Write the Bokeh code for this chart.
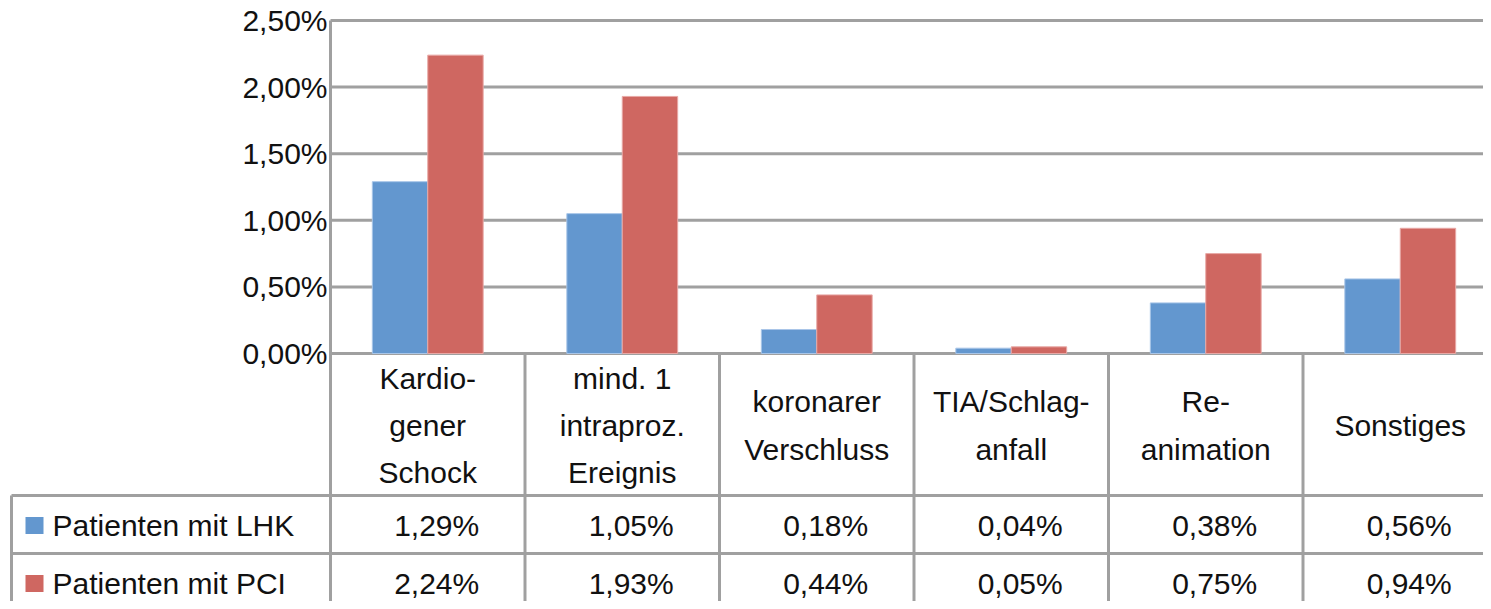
from bokeh.plotting import figure
from bokeh.models import Range1d
from bokeh.core.properties import value
from bokeh.embed import file_html
from bokeh.resources import INLINE

# ---------------- data ----------------
categories = ["Kardio-\ngener\nSchock", "mind. 1\nintraproz.\nEreignis", "koronarer\nVerschluss",
              "TIA/Schlag-\nanfall", "Re-\nanimation", "Sonstiges"]
series_names = ["Patienten mit LHK", "Patienten mit PCI"]
lhk = [1.29, 1.05, 0.18, 0.04, 0.38, 0.56]
pci = [2.24, 1.93, 0.44, 0.05, 0.75, 0.94]
y_ticks = [0.0, 0.5, 1.0, 1.5, 2.0, 2.5]

# ---------------- style / layout ----------------
W, H = 1483, 601
FONT = value("Liberation Sans")
FS = value("30px")
TXT = "#111111"
GRID = "#A0A0A0"
BLUE = "#6397CF"
RED = "#CF6761"

PX_X = 194.5          # pixels per category
PX_Y = 133.2          # pixels per 1 %
AXIS_X = 330          # canvas x of category 0 left edge
ZERO_Y = 353          # canvas y of 0 %

def sx(px):   # canvas x -> data x
    return (px - AXIS_X) / PX_X

def sy(py):   # canvas y -> data y
    return (ZERO_Y - py) / PX_Y

x0, x1 = sx(0), sx(W)
y0, y1 = sy(H), sy(0)

p = figure(width=W, height=H, output_backend="svg", toolbar_location=None,
           x_range=Range1d(x0, x1), y_range=Range1d(y0, y1),
           min_border=0, outline_line_color=None)
p.axis.visible = False
p.grid.visible = False
p.background_fill_color = "white"
p.border_fill_color = "white"

n = len(categories)
centers = [i + 0.5 for i in range(n)]

# gridlines
p.segment(x0=[0] * len(y_ticks), y0=y_ticks, x1=[x1] * len(y_ticks), y1=y_ticks,
          line_color=GRID, line_width=3)

# bars
bw = 0.285
p.vbar(x=[c - bw / 2 for c in centers], top=lhk, bottom=0, width=bw,
       fill_color=BLUE, line_color="#A9C6E8", line_width=1)
p.vbar(x=[c + bw / 2 for c in centers], top=pci, bottom=0, width=bw,
       fill_color=RED, line_color="#E8A9A6", line_width=1)

# y tick labels
p.text(x=[sx(327)] * len(y_ticks), y=y_ticks,
       text=[f"{t:.2f}%".replace(".", ",") for t in y_ticks],
       text_align="right", text_baseline="middle",
       text_font=FONT, text_font_size=FS, text_color=TXT)

# table lines
row_top = sy(495)
row_mid = sy(553)
left_x = sx(11)
# vertical column lines
p.segment(x0=[0], y0=[y0], x1=[0], y1=[y_ticks[-1]], line_color=GRID, line_width=3)
p.segment(x0=list(range(1, n + 1)), y0=[y0] * n, x1=list(range(1, n + 1)), y1=[0] * n,
          line_color=GRID, line_width=3)
p.segment(x0=[left_x], y0=[y0], x1=[left_x], y1=[row_top], line_color=GRID, line_width=3)
# horizontal row lines
p.segment(x0=[left_x, left_x], y0=[row_top, row_mid], x1=[x1, x1], y1=[row_top, row_mid],
          line_color=GRID, line_width=3)

# category labels
p.text(x=centers, y=[sy(425)] * n, text=categories,
       text_align="center", text_baseline="middle", text_line_height=1.43,
       text_font=FONT, text_font_size=FS, text_color=TXT)

# rows: legend swatches, names and values
row_y = [sy(525), sy(583)]
colors = [BLUE, RED]
p.rect(x=[sx(34)] * 2, y=row_y, width=18, height=17, width_units="screen",
       height_units="screen", fill_color=colors, line_color=None)
p.text(x=[sx(52)] * 2, y=row_y, text=series_names, text_align="left",
       text_baseline="middle", text_font=FONT, text_font_size=FS, text_color=TXT)

for vals, ry in zip([lhk, pci], row_y):
    p.text(x=[c + 0.046 for c in centers], y=[ry] * n,
           text=[f"{v:.2f}%".replace(".", ",") for v in vals],
           text_align="center", text_baseline="middle",
           text_font=FONT, text_font_size=FS, text_color=TXT)

open("out.html", "w").write(file_html(p, INLINE))
